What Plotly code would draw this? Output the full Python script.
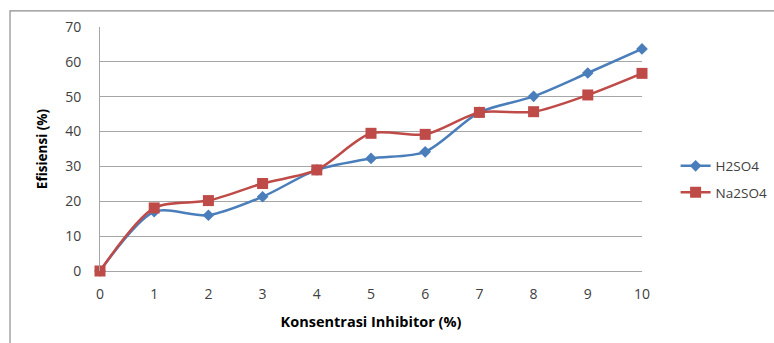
import plotly.graph_objects as go

# Inhibitor concentration (%)
konsentrasi = [0, 1, 2, 3, 4, 5, 6, 7, 8, 9, 10]

# Inhibition efficiency (%) per medium
efisiensi_h2so4 = [0, 17.0, 16.0, 21.3, 29.0, 32.3, 34.2, 45.5, 50.1, 56.8, 63.7]
efisiensi_na2so4 = [0, 18.1, 20.2, 25.1, 29.0, 39.5, 39.2, 45.5, 45.7, 50.5, 56.7]

x_ticks = list(range(0, 11))
y_ticks = list(range(0, 71, 10))

BLUE = "#4A7EBB"
RED = "#BE4B48"
FONT = "'Open Sans', Lato, sans-serif"

fig = go.Figure()
fig.add_trace(go.Scatter(
    x=konsentrasi, y=efisiensi_h2so4, name="H2SO4", legendgroup="a",
    mode="lines+markers", line=dict(color=BLUE, width=2.5, shape="spline", smoothing=0.8),
    marker=dict(symbol="diamond", size=9, color=BLUE), cliponaxis=False,
))
fig.add_trace(go.Scatter(
    x=konsentrasi, y=efisiensi_na2so4, name="Na2SO4", legendgroup="b",
    mode="lines+markers", line=dict(color=RED, width=2.5, shape="spline", smoothing=0.8),
    marker=dict(symbol="square", size=11, color=RED), cliponaxis=False,
))

fig.update_layout(
    width=774, height=343,
    margin=dict(l=100, r=132, t=27, b=72, autoexpand=False),
    paper_bgcolor="white", plot_bgcolor="white",
    font=dict(family=FONT, size=14, color="#404040"),
    showlegend=True,
    legend=dict(
        x=1.062, y=0.375, xanchor="left", yanchor="middle",
        font=dict(family=FONT, size=13.5, color="#404040"),
        itemwidth=30, tracegroupgap=6,
        bgcolor="rgba(0,0,0,0)",
    ),
    shapes=[dict(
        type="rect", xref="paper", yref="paper",
        x0=-0.166, x1=1.26, y0=-0.32, y1=1.066,
        line=dict(color="#8C8C8C", width=1.2), layer="below",
    )],
)

fig.update_xaxes(
    range=[0, 10], tickvals=x_ticks, ticktext=[str(v) for v in x_ticks],
    showgrid=False, zeroline=False, showline=False,
    ticks="", ticklabelstandoff=13,
    tickfont=dict(size=14),
    title=dict(text="<b>Konsentrasi Inhibitor (%)</b>", font=dict(family=FONT, size=14.5, color="#000000"), standoff=14),
)
fig.update_yaxes(
    range=[0, 70], tickvals=y_ticks, ticktext=[str(v) for v in y_ticks],
    showgrid=True, gridcolor="#A6A6A6", gridwidth=1,
    zeroline=True, zerolinecolor="#A6A6A6", zerolinewidth=1,
    showline=True, linecolor="#A6A6A6", linewidth=1,
    ticks="", ticklabelstandoff=15,
    tickfont=dict(size=14),
    title=dict(text="<b>Efisiensi (%)</b>", font=dict(family=FONT, size=13.5, color="#000000"), standoff=14),
)

fig.write_html("out.html")
